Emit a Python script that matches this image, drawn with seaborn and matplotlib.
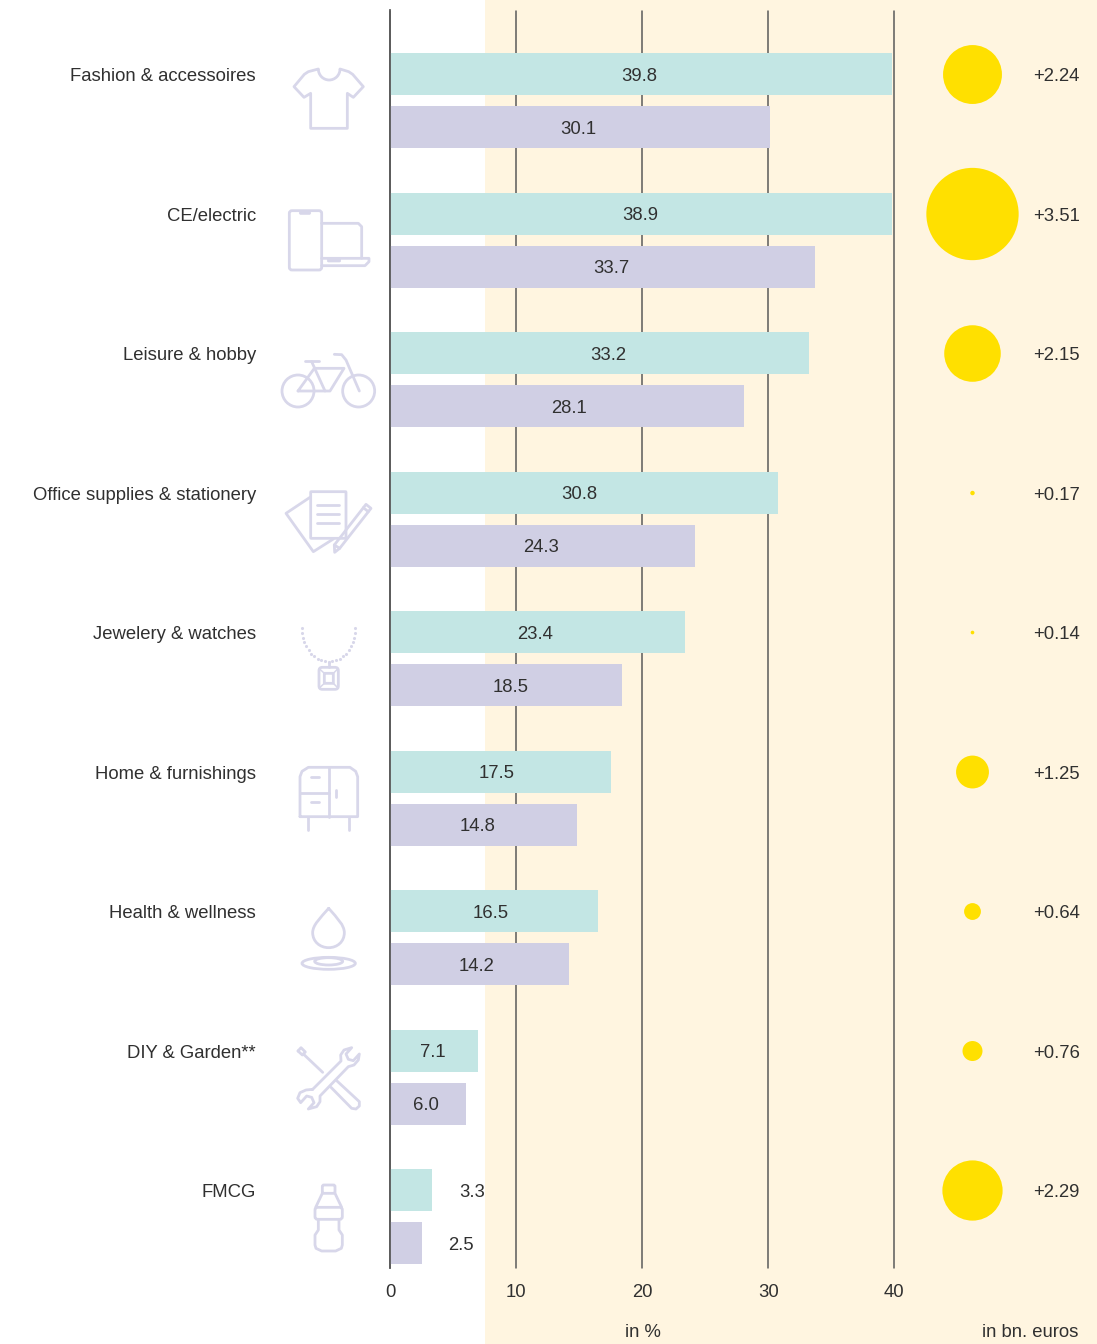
import numpy as np
import pandas as pd
import matplotlib
matplotlib.use("Agg")
import matplotlib.pyplot as plt
from matplotlib.patches import Rectangle, FancyBboxPatch, Ellipse, Arc
from matplotlib.path import Path
from matplotlib.patches import PathPatch
import seaborn as sns

categories = ["Fashion & accessoires", "CE/electric", "Leisure & hobby",
              "Office supplies & stationery", "Jewelery & watches",
              "Home & furnishings", "Health & wellness", "DIY & Garden**", "FMCG"]
series_a_labels = ["39.8", "38.9", "33.2", "30.8", "23.4", "17.5", "16.5", "7.1", "3.3"]
series_b_labels = ["30.1", "33.7", "28.1", "24.3", "18.5", "14.8", "14.2", "6.0", "2.5"]
# drawn bar lengths (the CE bar is drawn longer than its label)
series_a = [39.8, 39.8, 33.2, 30.8, 23.4, 17.5, 16.5, 7.0, 3.3]
series_b = [30.1, 33.7, 28.1, 24.2, 18.4, 14.8, 14.2, 6.0, 2.5]
growth = [2.24, 3.51, 2.15, 0.17, 0.14, 1.25, 0.64, 0.76, 2.29]
growth_labels = ["+2.24", "+3.51", "+2.15", "+0.17", "+0.14", "+1.25", "+0.64", "+0.76", "+2.29"]
ticks = [0, 10, 20, 30, 40]

# layout (pixels of the 1097x1344 canvas)
W, H = 1097, 1344
X0, X40 = 390.0, 894.4
AX_TOP, AX_BOT = 10.5, 1268
Y_FIRST, STEP = 100.6, 139.5
OFFSET = 26.5 / STEP
TEXT_SHIFT = 2.0 / STEP
label_px_a = [639, 640, 608, 579, 535, 497, 491, 433, 472]
label_px_b = [578, 611, 569, 541, 511, 478, 477, 426, 461]
bubble_px = 972.5
growth_right_px = 1080
PX_PER_UNIT = (X40 - X0) / 40

TEAL, LILAC, BEIGE, YELLOW = "#C3E6E4", "#D0CFE4", "#FFF5E0", "#FFE000"
INK, RULE, ICON = "#303030", "#5A5A5A", "#D8D7EA"
FS = 13.3

sns.set_theme(style="white")
plt.rcParams["font.family"] = ["Liberation Sans", "DejaVu Sans"]

fig = plt.figure(figsize=(W / 100, H / 100), dpi=100)
fig.patches.append(Rectangle((484.5 / W, 0), 1 - 484.5 / W, 1, transform=fig.transFigure,
                             facecolor=BEIGE, edgecolor="none", zorder=-10))

ax = fig.add_axes([X0 / W, 1 - AX_BOT / H, (X40 - X0) / W, (AX_BOT - AX_TOP) / H])
ax.patch.set_alpha(0)

df = pd.DataFrame({
    "category": categories * 2,
    "value": series_a + series_b,
    "series": ["a"] * len(categories) + ["b"] * len(categories),
})
sns.barplot(data=df, y="category", x="value", hue="series", order=categories,
            palette={"a": TEAL, "b": LILAC}, width=4 * 26.5 / STEP,
            gap=1 - 42 / 53.0, legend=False, ax=ax, zorder=3, saturation=1, linewidth=0)

def data_x(px):
    return (px - X0) / PX_PER_UNIT

y_pos = np.arange(len(categories))
ax.set_xlim(0, 40)
ax.set_ylim((AX_BOT - Y_FIRST) / STEP, (AX_TOP - Y_FIRST) / STEP)

# axis and rules
ax.set_xticks(ticks)
ax.set_xticklabels([str(t) for t in ticks], fontsize=FS, color=INK)
ax.set_yticks(y_pos - OFFSET + 0.5 / STEP)
ax.set_yticklabels(categories, fontsize=FS, color=INK, ha="right")
ax.tick_params(axis="x", length=0, pad=11.7)
ax.tick_params(axis="y", length=0, pad=(X0 - 256) * 0.72)
ax.set_xlabel("")
ax.set_ylabel("")
ax.grid(False)
ax.xaxis.grid(True, color=RULE, linewidth=1.1, zorder=1)
ax.set_axisbelow(True)
for gl in ax.get_xgridlines():
    gl.set_clip_on(False)
for s in ["top", "right", "bottom"]:
    ax.spines[s].set_visible(False)
ax.spines["left"].set_color(RULE)
ax.spines["left"].set_linewidth(1.3)
ax.spines["left"].set_zorder(5)

# bar value labels
for i in y_pos:
    ax.text(data_x(label_px_a[i]), i - OFFSET + TEXT_SHIFT, series_a_labels[i], ha="center", va="center",
            fontsize=FS, color=INK, zorder=6, clip_on=False)
    ax.text(data_x(label_px_b[i]), i + OFFSET + TEXT_SHIFT, series_b_labels[i], ha="center", va="center",
            fontsize=FS, color=INK, zorder=6, clip_on=False)

# growth bubbles: diameter proportional to value
diam_pt = np.array(growth) * 26.3 * 0.72
sns.scatterplot(x=[data_x(bubble_px)] * len(growth), y=y_pos - OFFSET + 0.003, s=diam_pt ** 2,
                color=YELLOW, linewidth=0, ax=ax, clip_on=False, zorder=4, legend=False)
for i in y_pos:
    ax.text(data_x(growth_right_px), i - OFFSET + 1.25 * TEXT_SHIFT, growth_labels[i], ha="right", va="center",
            fontsize=FS, color=INK, clip_on=False)

fig.text(643 / W, 1 - 1332.5 / H, "in %", ha="center", va="center", fontsize=FS, color=INK)
fig.text(1078 / W, 1 - 1332.5 / H, "in bn. euros", ha="right", va="center", fontsize=FS, color=INK)

# icons, in a pixel-coordinate overlay
ov = fig.add_axes([0, 0, 1, 1], zorder=-1)
ov.set_xlim(0, W)
ov.set_ylim(H, 0)
ov.axis("off")
ov.patch.set_alpha(0)
LW = 2.0

def pl(o, pts, closed=False, **kw):
    a = np.array(pts, float) / 3 + np.array(o, float)
    if closed:
        a = np.vstack([a, a[0]])
    ov.plot(a[:, 0], a[:, 1], color=ICON, lw=kw.get("lw", LW), solid_capstyle="round",
            solid_joinstyle="round")

def curve(o, verts, codes):
    a = np.array(verts, float) / 3 + np.array(o, float)
    ov.add_patch(PathPatch(Path(a, codes), facecolor="none", edgecolor=ICON,
                           lw=LW, capstyle="round", joinstyle="round"))

def rbox(o, x0, y0, x1, y1, r, fill=False, lw=LW):
    ov.add_patch(FancyBboxPatch((o[0] + (x0 + r) / 3, o[1] + (y0 + r) / 3), (x1 - x0 - 2 * r) / 3,
                                (y1 - y0 - 2 * r) / 3, boxstyle=f"round,pad={r / 3},rounding_size={r / 3}",
                                facecolor=ICON if fill else "none", edgecolor=ICON, lw=lw))

def ell(o, cx, cy, w, h):
    ov.add_patch(Ellipse((o[0] + cx / 3, o[1] + cy / 3), w / 3, h / 3, facecolor="none",
                         edgecolor=ICON, lw=LW))

def arc(o, cx, cy, w, h, a0, a1):
    ov.add_patch(Arc((o[0] + cx / 3, o[1] + cy / 3), w / 3, h / 3, theta1=a0, theta2=a1,
                     edgecolor=ICON, lw=LW))

# t-shirt
o = (270, 40)
pl(o, [(145, 87), (115, 95), (103, 103), (72, 140), (102, 172), (122, 160), (122, 265), (232, 265),
       (232, 160), (250, 172), (280, 140), (248, 103), (236, 95), (210, 87)])
arc(o, 177.5, 87, 65, 66, 0, 180)
# devices
rbox(o, 58, 512, 155, 690, 8)
rbox(o, 88, 512, 122, 523, 4, fill=True, lw=0.5)
pl(o, [(155, 550), (265, 550), (275, 560), (275, 655)])
pl(o, [(155, 655), (297, 655), (297, 665), (285, 677), (155, 677)])
rbox(o, 172, 655, 212, 666, 4, fill=True, lw=0.5)
# bicycle
o = (270, 340)
ell(o, 84, 153, 96, 96)
ell(o, 266, 153, 96, 96)
pl(o, [(84, 153), (133, 85), (222, 85), (180, 153), (84, 153)])
pl(o, [(125, 65), (165, 153)])
pl(o, [(105, 64), (147, 64)])
pl(o, [(268, 153), (228, 60), (215, 44), (193, 43)])
# office
rbox(o, 122, 455, 228, 595, 2)
for yy in (495, 522, 548):
    pl(o, [(140, yy), (208, yy)])
pl(o, [(120, 472), (48, 520), (130, 635), (190, 597)])
pl(o, [(193, 615), (288, 493), (303, 505), (209, 625), (194, 637), (193, 615)])
pl(o, [(193, 615), (209, 625)])
pl(o, [(280, 503), (295, 515)])
# necklace
o = (270, 610)
th = np.linspace(0, np.pi, 23)
dots = np.column_stack([176 + 80 * np.cos(th), 55 + 100 * np.sin(th)])
ov.scatter(o[0] + dots[:, 0] / 3, o[1] + dots[:, 1] / 3, s=5, color=ICON, linewidths=0)
pl(o, [(176, 155), (176, 172)])
rbox(o, 147, 172, 205, 238, 10)
rbox(o, 163, 190, 190, 220, 1)
pl(o, [(150, 178), (163, 190)], lw=1.1)
pl(o, [(202, 178), (190, 190)], lw=1.1)
pl(o, [(150, 232), (163, 220)], lw=1.1)
pl(o, [(202, 232), (190, 220)], lw=1.1)
# cabinet
pl(o, [(90, 620), (90, 500), (96, 484), (115, 472), (240, 472), (257, 484), (263, 500), (263, 620), (90, 620)])
pl(o, [(176, 472), (176, 620)])
pl(o, [(90, 550), (176, 550)])
pl(o, [(122, 500), (146, 500)])
pl(o, [(122, 576), (146, 576)])
pl(o, [(198, 540), (198, 560)])
pl(o, [(114, 620), (114, 660)])
pl(o, [(237, 620), (237, 660)])
# drop
o = (270, 890)
curve(o, [(176, 55), (150, 85), (128, 105), (128, 128), (128, 155), (150, 173), (176, 173),
          (202, 173), (223, 155), (223, 128), (223, 105), (202, 85), (176, 55)],
      [Path.MOVETO] + [Path.CURVE4] * 12)
ell(o, 176, 220, 160, 36)
ell(o, 176, 214, 84, 22)
# tools
pl(o, [(100, 492), (158, 547)])
pl(o, [(84, 483), (93, 473), (106, 486), (97, 495), (84, 483)])
pl(o, [(200, 572), (268, 635), (268, 648), (258, 657), (245, 655), (183, 592)])
pl(o, [(128, 598), (213, 513), (212, 495), (222, 480), (245, 473), (228, 492), (235, 508), (250, 512),
       (268, 492), (265, 510), (252, 525), (235, 530), (150, 618), (150, 635), (140, 650), (115, 657),
       (132, 638), (125, 622), (110, 618), (92, 638), (83, 625), (90, 608), (108, 600), (128, 598)])
# bottle
o = (270, 1150)
rbox(o, 157, 105, 195, 130, 5)
pl(o, [(157, 130), (137, 172)])
pl(o, [(195, 130), (215, 172)])
rbox(o, 135, 172, 217, 208, 8)
pl(o, [(145, 208), (145, 240), (135, 255), (135, 285), (138, 295), (155, 303), (197, 303), (214, 295),
       (217, 285), (217, 255), (207, 240), (207, 208)])

fig.savefig("out.png", dpi=100)
